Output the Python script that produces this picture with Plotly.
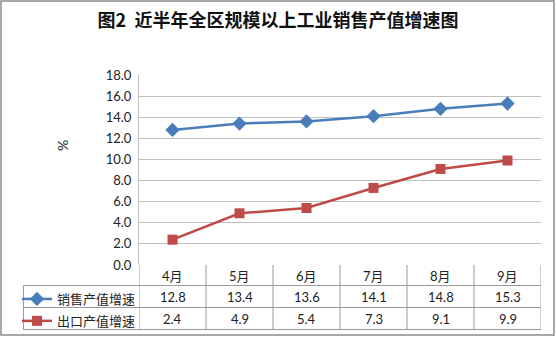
import plotly.graph_objects as go

months = ["4月", "5月", "6月", "7月", "8月", "9月"]
sales_growth = [12.8, 13.4, 13.6, 14.1, 14.8, 15.3]
export_growth = [2.4, 4.9, 5.4, 7.3, 9.1, 9.9]
series_names = ["销售产值增速", "出口产值增速"]
y_ticks = [0, 2, 4, 6, 8, 10, 12, 14, 16, 18]

BLUE = "#4A7EBB"
RED = "#BE4B48"
GRID = "#BFBFBF"
TBL = "#9A9A9A"
FONT = "Lato, 'Noto Sans CJK SC', sans-serif"
CJK = "'Noto Sans CJK SC', sans-serif"

W_FIG, H_FIG = 556, 337
L, R, T, B = 139, 541, 75, 265
PW, PH = R - L, B - T

def px(x):
    return (x - L) / PW

def py(y):
    return (B - y) / PH

fig = go.Figure()
fig.add_trace(go.Scatter(
    x=months, y=sales_growth, name=series_names[0], legendgroup="a",
    mode="lines+markers", line=dict(color=BLUE, width=2.5),
    marker=dict(symbol="diamond", size=11, color=BLUE)))
fig.add_trace(go.Scatter(
    x=months, y=export_growth, name=series_names[1], legendgroup="b",
    mode="lines+markers", line=dict(color=RED, width=2.5),
    marker=dict(symbol="square", size=10, color=RED)))

shapes = []
# outer border
shapes.append(dict(type="rect", xref="paper", yref="paper",
                   x0=px(1), x1=px(554), y0=py(335), y1=py(1),
                   line=dict(color="#8C8C8C", width=1.5), layer="below"))
# table grid: horizontal rules
for yy in [285.5, 307.5, 329.5]:
    shapes.append(dict(type="line", xref="paper", yref="paper",
                       x0=px(23), x1=px(541), y0=py(yy), y1=py(yy),
                       line=dict(color=TBL, width=1)))
shapes.append(dict(type="line", xref="paper", yref="paper",
                   x0=px(23.5), x1=px(23.5), y0=py(285.5), y1=py(329.5),
                   line=dict(color=TBL, width=1)))
for k in range(len(months) + 1):
    shapes.append(dict(type="line", xref="x", yref="paper",
                       x0=k - 0.5, x1=k - 0.5, y0=py(265), y1=py(329.5),
                       line=dict(color=TBL, width=1)))

annotations = []
for values, (y0, y1) in [(sales_growth, (285.5, 307.5)), (export_growth, (307.5, 329.5))]:
    for m, v in zip(months, values):
        annotations.append(dict(x=m, xref="x", y=py((y0 + y1) / 2), yref="paper",
                                yanchor="middle", xanchor="center",
                                text=f"{v:.1f}", showarrow=False,
                                font=dict(family=FONT, size=13, color="#222")))
for m in months:
    annotations.append(dict(x=m, xref="x", y=py(275.5), yref="paper",
                            yanchor="middle", xanchor="center",
                            text=m, showarrow=False,
                            font=dict(family=FONT, size=13, color="#222")))
annotations.append(dict(x=px(62), y=py(146), xref="paper", yref="paper",
                        yanchor="middle", xanchor="center",
                        text="%", textangle=-90, showarrow=False,
                        font=dict(family=FONT, size=14, color="#222")))

fig.update_layout(
    width=W_FIG, height=H_FIG,
    margin=dict(l=L, r=W_FIG - R, t=T, b=H_FIG - B, autoexpand=False),
    paper_bgcolor="white", plot_bgcolor="white",
    title=dict(text="<b>图2  近半年全区规模以上工业销售产值增速图</b>",
               x=0.5, xref="container", xanchor="center",
               y=1 - 21 / H_FIG, yref="container", yanchor="middle",
               font=dict(family=CJK, size=18, color="#111")),
    xaxis=dict(type="category", range=[-0.5, len(months) - 0.5],
               showticklabels=False, showgrid=False, zeroline=False,
               showline=False, ticks=""),
    yaxis=dict(range=[0, 18], tickvals=y_ticks, tickformat=".1f",
               showgrid=True, gridcolor=GRID, gridwidth=1,
               zeroline=False, showline=True, linecolor=GRID, linewidth=1,
               ticks="", tickfont=dict(family=FONT, size=13, color="#222"),
               ticklabelstandoff=4),
    showlegend=True,
    legend=dict(x=px(17), xanchor="left", y=py(284), yanchor="top",
                orientation="v", tracegroupgap=2, bgcolor="rgba(0,0,0,0)",
                font=dict(family=CJK, size=13, color="#222"),
                itemwidth=30),
    shapes=shapes, annotations=annotations,
)

fig.write_html("out.html")
